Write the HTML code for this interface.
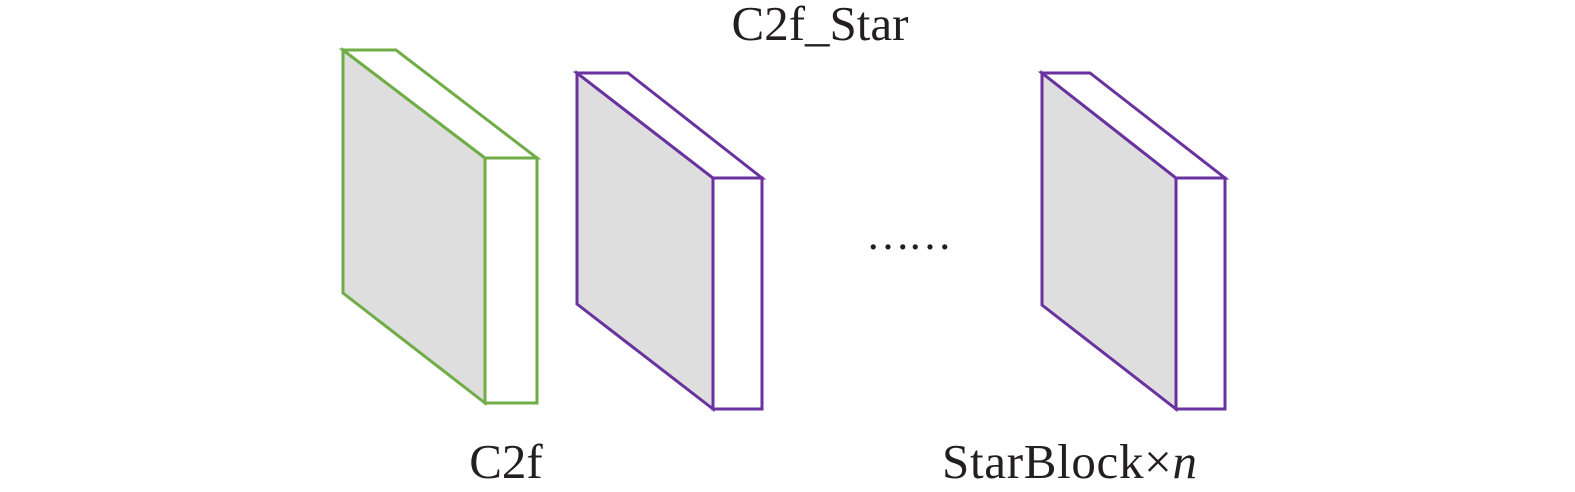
<!DOCTYPE html>
<html><head><meta charset="utf-8"><style>
html,body{margin:0;padding:0;background:#fff;width:1575px;height:492px;overflow:hidden}
</style></head><body>
<svg width="1575" height="492" viewBox="0 0 1575 492" xmlns="http://www.w3.org/2000/svg">
<g stroke-width="3" stroke-linejoin="miter" fill="#fff">
<g stroke="#70ad47">
<polygon points="343,50 485,158 485,403 343,293" fill="#dedede"/>
<polygon points="343,50 396,50 537,158 485,158"/>
<polygon points="485,158 537,158 537,403 485,403"/>
</g>
<g stroke="#6a329f">
<polygon points="577,73 713,178 713,409 577,304" fill="#dedede"/>
<polygon points="577,73 628,73 762,178 713,178"/>
<polygon points="713,178 762,178 762,409 713,409"/>
</g>
<g stroke="#6a329f">
<polygon points="1042,73 1176,178 1176,409 1042,305" fill="#dedede"/>
<polygon points="1042,73 1090,73 1225,178 1176,178"/>
<polygon points="1176,178 1225,178 1225,409 1176,409"/>
</g>
</g>
<g font-family="Liberation Serif, serif" font-size="49" fill="#231f20">
<text x="820" y="40" text-anchor="middle">C2f_Star</text>
<text x="506" y="478" text-anchor="middle">C2f</text>
<text x="942" y="478" textLength="255">StarBlock×<tspan font-style="italic">n</tspan></text>
<text x="866" y="249" font-size="44" textLength="86">……</text>
</g>
</svg>
</body></html>
